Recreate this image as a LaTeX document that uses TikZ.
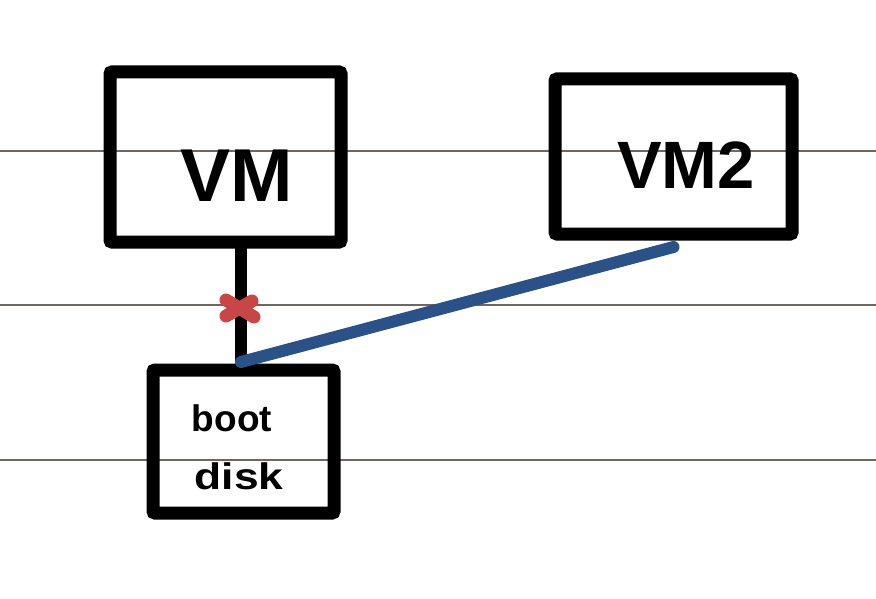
\documentclass[tikz,border=0pt]{standalone}
\usepackage{fontspec}
\setmainfont{Liberation Sans}
\usetikzlibrary{calc}
\definecolor{rule}{HTML}{6F6762}
\definecolor{linkblue}{HTML}{2A5288}
\definecolor{xred}{HTML}{C84646}
\tikzset{
  box/.style={draw=black, line width=13pt, rounded corners=2pt, inner sep=0pt, outer sep=0pt},
  ruleline/.style={draw=rule, line width=1.8pt},
  hand/.style={font=\bfseries, inner sep=0pt},
  wire/.style={line width=12pt, line cap=round},
  cross/.style={draw=xred, line width=13pt, line cap=round},
}
\begin{document}
\begin{tikzpicture}[x=1pt, y=-1pt]
\useasboundingbox (0,0) rectangle (876,599);
\fill[white] (0,0) rectangle (876,599);
% ruled lines
\coordinate (r1l) at (0,151); \coordinate (r1r) at (876,151);
\coordinate (r2l) at (0,305); \coordinate (r2r) at (876,305);
\coordinate (r3l) at (0,460); \coordinate (r3r) at (876,460);
\draw[ruleline] (r1l) -- (r1r);
\draw[ruleline] (r2l) -- (r2r);
\draw[ruleline] (r3l) -- (r3r);
% boxes
\node[box, minimum width=231pt, minimum height=170pt] (vm) at (225.5,157) {};
\node[box, minimum width=237pt, minimum height=155pt] (vm2) at (673.5,156.5) {};
\node[box, minimum width=181pt, minimum height=143pt] (boot) at (243.5,441.5) {};
% labels
\node[hand, font=\fontsize{75}{75}\bfseries\selectfont] (vmt) at (237,176) {VM};
\node[hand, font=\fontsize{67}{67}\bfseries\selectfont] (vm2t) at (686,165) {VM2};
\node[hand, font=\fontsize{37}{37}\bfseries\selectfont] (boott) at (232,418) {boot};
\node[hand, font=\fontsize{37}{37}\bfseries\selectfont, xscale=1.2] (diskt) at (239,476) {disk};
% connectors
\coordinate (vmfoot) at (vm.south -| 241,0);
\coordinate (bootjoin) at (241,362);
\coordinate (vm2foot) at ($(vm2.south)+(0,13)$);
\draw[wire, black, line cap=butt] (vmfoot) -- (bootjoin);
\draw[wire, linkblue] (bootjoin) -- (vm2foot);
% red cross
\coordinate (xc) at (240,308);
\draw[cross] ($(xc)+(-14,-8)$) -- ($(xc)+(14,9)$);
\draw[cross] ($(xc)+(-14,8)$) -- ($(xc)+(12,-7)$);
\end{tikzpicture}
\end{document}
